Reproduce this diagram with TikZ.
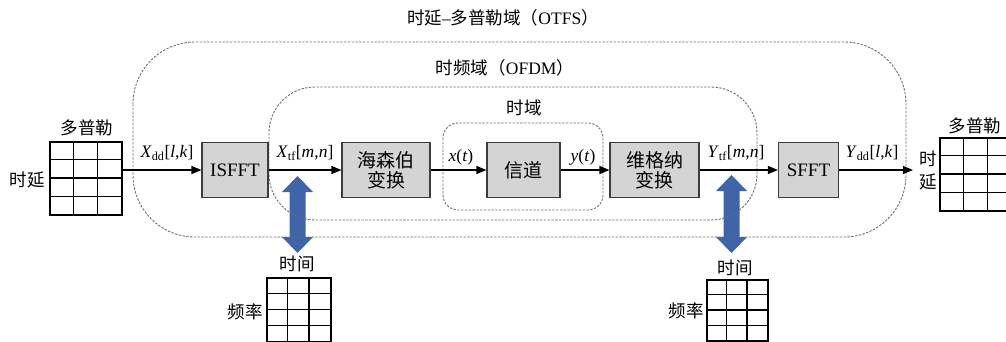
\documentclass[tikz,border=0pt]{standalone}
\usepackage{fontspec}
\setmainfont{Liberation Serif}
\newfontfamily\cjk{Noto Sans CJK SC}
\usetikzlibrary{arrows.meta}
\definecolor{boxfill}{RGB}{212,212,212}
\definecolor{boxline}{RGB}{60,60,60}
\definecolor{dashgray}{RGB}{110,110,110}
\definecolor{arrowblue}{RGB}{64,100,168}
\newcommand\mybluearrow[4]{% name, x, ytop, shaft length
  \coordinate (#1-t) at (#2,#3);
  \fill[arrowblue] (#1-t) -- ++(15.5,16) -- ++(-7.5,0) -- ++(0,#4) -- ++(7.5,0) -- ++(-15.5,16)
     -- ++(-15.5,-16) -- ++(7.5,0) -- ++(0,-#4) -- ++(-7.5,0) -- cycle;
}
\begin{document}
\begin{tikzpicture}[x=1pt,y=-1pt,
  blk/.style={draw=boxline, line width=1.1pt, fill=boxfill, minimum height=55pt,
     inner sep=0pt, align=center, font=\fontsize{19}{21}\selectfont},
  sig/.style={line width=1.1pt, -{Triangle[length=10pt,width=8pt]}},
  dom/.style={draw=dashgray, line width=0.9pt, dash pattern=on 2.4pt off 1.4pt},
  lbl/.style={inner sep=0pt, font=\fontsize{17.5}{20}\selectfont},
  cj/.style={inner sep=0pt, font=\fontsize{17.5}{20}\selectfont\cjk},
  gridbox/.style={draw=black, line width=1.2pt, inner sep=0pt}]
\useasboundingbox (0,0) rectangle (1006,341);

% blue double arrows (below dashed boxes)
\mybluearrow{ba1}{297.5}{176}{45}
\mybluearrow{ba2}{731.5}{175}{46}

% domain boxes
\draw[dom, rounded corners=62pt] (133,42) rectangle (906,237);
\draw[dom, rounded corners=46pt] (269,87) rectangle (757,220);
\draw[dom, rounded corners=15pt] (443,123) rectangle (603,210);

% domain labels
\node[lbl] (tOTFS) at (503,18) {{\cjk 时延}–{\cjk 多普勒域（}OTFS{\cjk ）}};
\node[lbl] (tOFDM) at (505,68) {{\cjk 时频域（}OFDM{\cjk ）}};
\node[cj] (tTime) at (524,108) {时域};

% processing blocks
\node[blk, minimum width=66pt] (isfft) at (235,170) {ISFFT};
\node[blk, minimum width=88pt] (heis) at (386,170) {\cjk 海森伯\\[-1pt]\cjk 变换};
\node[blk, minimum width=73pt] (chan) at (523.5,170) {\cjk 信道};
\node[blk, minimum width=89pt] (wig) at (654.5,170) {\cjk 维格纳\\[-1pt]\cjk 变换};
\node[blk, minimum width=60pt] (sfft) at (808.5,170) {SFFT};

% grids
\node[gridbox, minimum width=72pt, minimum height=73pt] (ddin) at (86,178.5) {};
\foreach \i in {1,2} \draw[line width=1.2pt] ([xshift=24*\i pt]ddin.north west) -- ([xshift=24*\i pt]ddin.south west);
\foreach \i in {1,2,3} \draw[line width=1.2pt] ([yshift=-18.25*\i pt]ddin.north west) -- ([yshift=-18.25*\i pt]ddin.north east);

\node[gridbox, minimum width=72pt, minimum height=73pt] (ddout) at (976,174.5) {};
\foreach \i in {1,2} \draw[line width=1.2pt] ([xshift=24*\i pt]ddout.north west) -- ([xshift=24*\i pt]ddout.south west);
\foreach \i in {1,2,3} \draw[line width=1.2pt] ([yshift=-18.25*\i pt]ddout.north west) -- ([yshift=-18.25*\i pt]ddout.north east);

\node[gridbox, minimum width=64pt, minimum height=64pt] (tfin) at (299,310) {};
\foreach \i in {1,2} \draw[line width=1.2pt] ([xshift=21.33*\i pt]tfin.north west) -- ([xshift=21.33*\i pt]tfin.south west);
\foreach \i in {1,2,3} \draw[line width=1.2pt] ([yshift=-16*\i pt]tfin.north west) -- ([yshift=-16*\i pt]tfin.north east);

\node[gridbox, minimum width=61pt, minimum height=61pt] (tfout) at (737.5,310.5) {};
\foreach \i in {1,2} \draw[line width=1.2pt] ([xshift=20.33*\i pt]tfout.north west) -- ([xshift=20.33*\i pt]tfout.south west);
\foreach \i in {1,2,3} \draw[line width=1.2pt] ([yshift=-15.25*\i pt]tfout.north west) -- ([yshift=-15.25*\i pt]tfout.north east);

% grid labels
\node[cj] (l1) at (87,128) {多普勒};
\node[cj] (l2) at (27,180) {时延};
\node[cj] (l3) at (975,126) {多普勒};
\node[cj, align=center] (l4) at (928,170) {时\\[3pt]延};
\node[cj] (l5) at (297,264) {时间};
\node[cj] (l6) at (245,312) {频率};
\node[cj] (l7) at (735,268) {时间};
\node[cj] (l8) at (686,311) {频率};

% signal connectors
\coordinate (outend) at (913,170);
\draw[sig] (ddin.east |- isfft.west) -- (isfft.west);
\draw[sig] (isfft) -- (heis);
\draw[sig] (heis) -- (chan);
\draw[sig] (chan) -- (wig);
\draw[sig] (wig) -- (sfft);
\draw[sig] (sfft.east) -- (outend);

% signal labels
\node[lbl] (s1) at (167,153) {\textit{X}\textsubscript{dd}[\textit{l},\textit{k}]};
\node[lbl] (s2) at (305,153) {\textit{X}\textsubscript{tf}[\textit{m},\textit{n}]};
\node[lbl] (s3) at (461,157) {\textit{x}(\textit{t})};
\node[lbl] (s4) at (583,157) {\textit{y}(\textit{t})};
\node[lbl] (s5) at (736,153) {\textit{Y}\textsubscript{tf}[\textit{m},\textit{n}]};
\node[lbl] (s6) at (872,153) {\textit{Y}\textsubscript{dd}[\textit{l},\textit{k}]};
\end{tikzpicture}
\end{document}
